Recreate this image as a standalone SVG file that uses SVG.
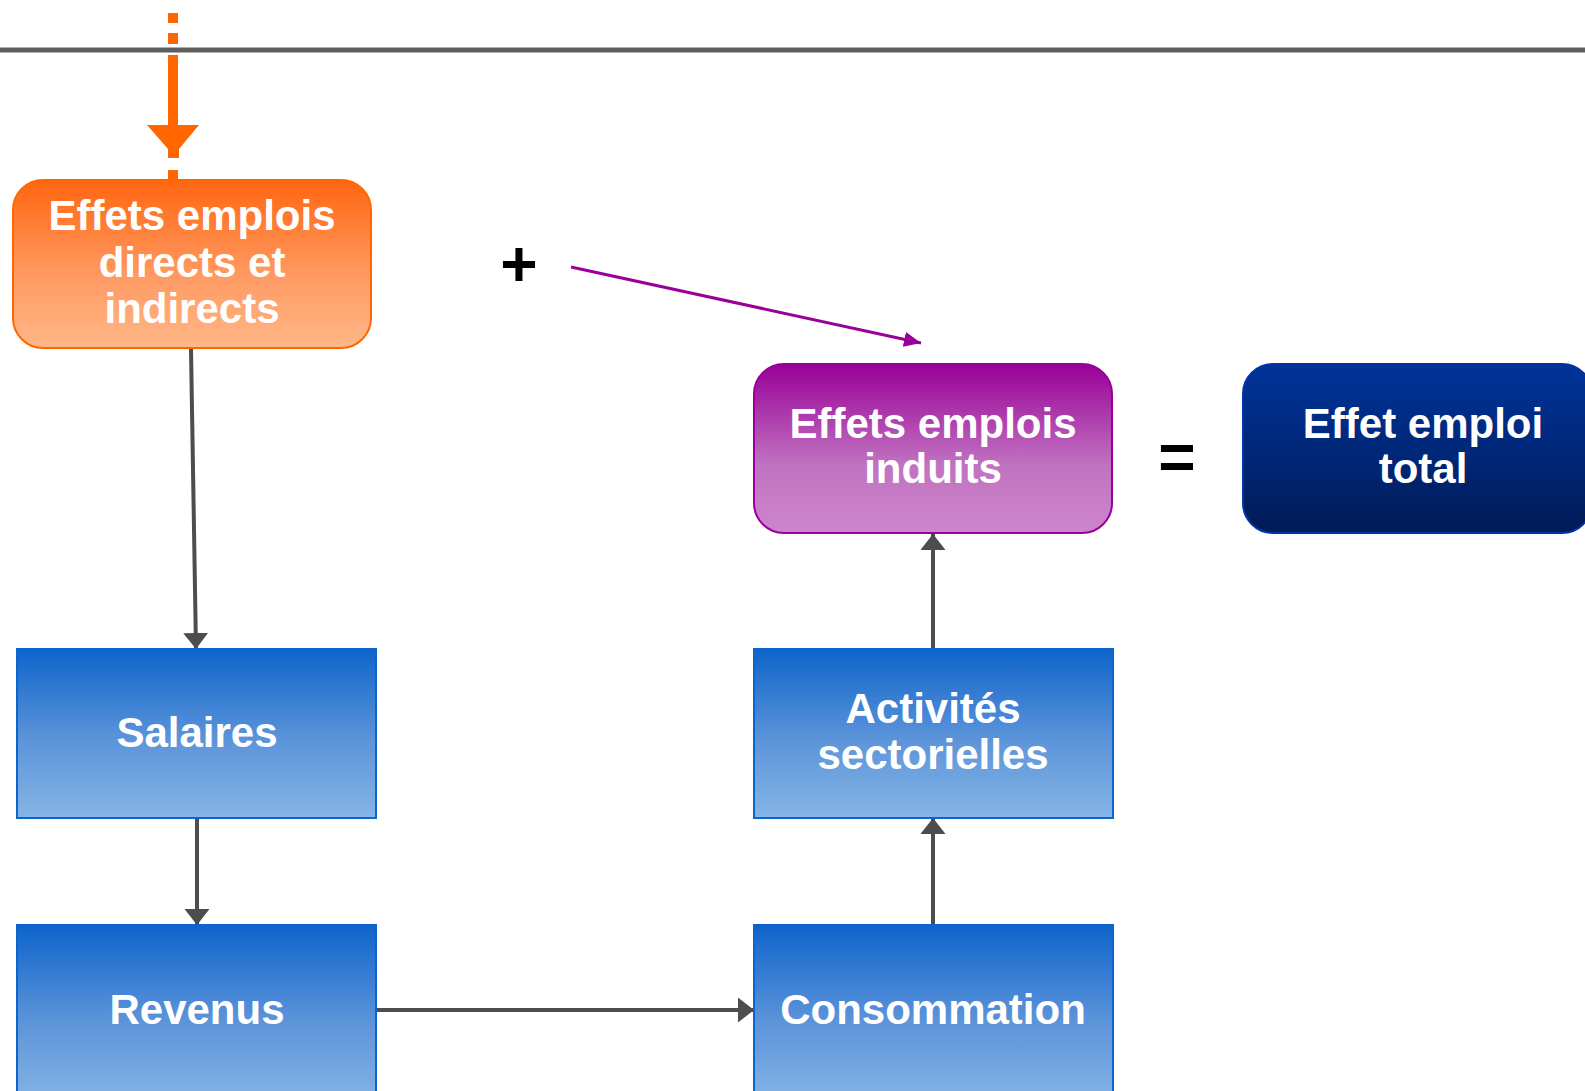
<svg xmlns="http://www.w3.org/2000/svg" width="1585" height="1091" viewBox="0 0 1585 1091">
<style>
.t{font-family:"Liberation Sans",Arial,sans-serif;font-weight:bold;font-size:42px;fill:#FFFFFF;text-anchor:middle}
.op{font-family:"Liberation Sans",Arial,sans-serif;font-weight:bold;font-size:64px;fill:#000000;text-anchor:middle}
.blue{fill:url(#gBlue);stroke:#0A66CC;stroke-width:2}
.conn{stroke:#4D4D4D;stroke-width:4;fill:none}
</style>
<defs>
<linearGradient id="gBlue" x1="0" y1="0" x2="0" y2="1">
<stop offset="0" stop-color="#0E64CB"/>
<stop offset="0.55" stop-color="#5E95DA"/>
<stop offset="1" stop-color="#85B5E6"/>
</linearGradient>
<linearGradient id="gOrange" x1="0" y1="0" x2="0" y2="1">
<stop offset="0" stop-color="#FF6611"/>
<stop offset="0.6" stop-color="#FF9C66"/>
<stop offset="1" stop-color="#FFB787"/>
</linearGradient>
<linearGradient id="gPurple" x1="0" y1="0" x2="0" y2="1">
<stop offset="0" stop-color="#990099"/>
<stop offset="0.6" stop-color="#C073C0"/>
<stop offset="1" stop-color="#CD85CD"/>
</linearGradient>
<linearGradient id="gNavy" x1="0" y1="0" x2="0" y2="1">
<stop offset="0" stop-color="#003399"/>
<stop offset="0.55" stop-color="#002777"/>
<stop offset="1" stop-color="#001A55"/>
</linearGradient>
<marker id="aGray" markerUnits="userSpaceOnUse" markerWidth="17" markerHeight="26" refX="16" refY="12.5" orient="auto">
<path d="M0,0 L16,12.5 L0,25 z" fill="#4D4D4D"/>
</marker>
<marker id="aPurple" markerUnits="userSpaceOnUse" markerWidth="18" markerHeight="16" refX="17" refY="7.5" orient="auto">
<path d="M0,0 L17,7.5 L0,15 z" fill="#990099"/>
</marker>
</defs>
<rect width="1585" height="1091" fill="#FFFFFF"/>
<line x1="0" y1="50" x2="1585" y2="50" stroke="#5E5E5E" stroke-width="5"/>

<g id="connectors">
<line x1="173" y1="13" x2="173" y2="180" stroke="#FF6600" stroke-width="10" stroke-dasharray="10 10 11 11 103 12 10"/>
<polygon points="147,125 199,125 179,149 179,158 168,158 168,149" fill="#FF6600"/>
<line class="conn" x1="191" y1="349" x2="196" y2="649" marker-end="url(#aGray)"/>
<line class="conn" x1="197" y1="818" x2="197" y2="925" marker-end="url(#aGray)"/>
<line class="conn" x1="376" y1="1010" x2="754" y2="1010" marker-end="url(#aGray)"/>
<line class="conn" x1="933" y1="925" x2="933" y2="818" marker-end="url(#aGray)"/>
<line class="conn" x1="933" y1="649" x2="933" y2="534" marker-end="url(#aGray)"/>
<line x1="571" y1="267" x2="921" y2="343" stroke="#990099" stroke-width="3" marker-end="url(#aPurple)"/>
</g>

<g id="node-directs">
<rect x="13" y="180" width="358" height="168" rx="30" ry="30" fill="url(#gOrange)" stroke="#FF6600" stroke-width="2"/>
<text class="t" x="192" y="230">Effets emplois</text>
<text class="t" x="192" y="277">directs et</text>
<text class="t" x="192" y="323">indirects</text>
</g>

<g id="node-plus">
<text class="op" x="519" y="286">+</text>
</g>

<g id="node-induits">
<rect x="754" y="364" width="358" height="169" rx="30" ry="30" fill="url(#gPurple)" stroke="#990099" stroke-width="2"/>
<text class="t" x="933" y="438">Effets emplois</text>
<text class="t" x="933" y="483">induits</text>
</g>

<g id="node-equals">
<text class="op" x="1177" y="479">=</text>
</g>

<g id="node-total">
<rect x="1243" y="364" width="349" height="169" rx="30" ry="30" fill="url(#gNavy)" stroke="#0033AA" stroke-width="2"/>
<text class="t" x="1423" y="438">Effet emploi</text>
<text class="t" x="1423" y="483">total</text>
</g>

<g id="node-salaires">
<rect class="blue" x="17" y="649" width="359" height="169"/>
<text class="t" x="197" y="747">Salaires</text>
</g>

<g id="node-revenus">
<rect class="blue" x="17" y="925" width="359" height="180"/>
<text class="t" x="197" y="1024">Revenus</text>
</g>

<g id="node-activites">
<rect class="blue" x="754" y="649" width="359" height="169"/>
<text class="t" x="933" y="723">Activités</text>
<text class="t" x="933" y="769">sectorielles</text>
</g>

<g id="node-consommation">
<rect class="blue" x="754" y="925" width="359" height="180"/>
<text class="t" x="933" y="1024">Consommation</text>
</g>
</svg>
